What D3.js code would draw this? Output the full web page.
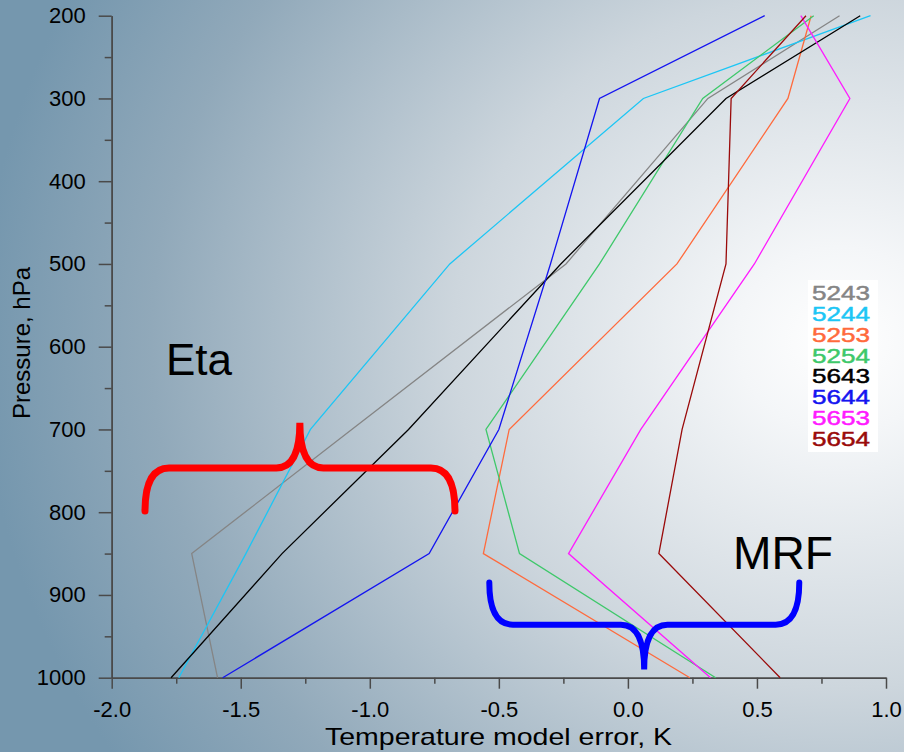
<!DOCTYPE html>
<html lang="en">
<head>
  <meta charset="UTF-8">
  <title>Temperature model error profiles</title>
  <script src="https://d3js.org/d3.v7.min.js"></script>
  <style>
    body { margin: 0; background: #fff; }
    svg { display: block; font-family: 'Liberation Sans', Arial, sans-serif; }
    .axis path, .axis line { stroke: #4a4a4a; stroke-width: 1.5px; }
    .axis text { fill: #000; font-size: 22px; }
  </style>
</head>
<body>
  <svg id="chart" width="904" height="752"></svg>
  <script>
    // pressure levels (hPa) shared by every profile
    const levels = [1000, 850, 700, 500, 300, 200];

    const runs = ["5243", "5244", "5253", "5254", "5643", "5644", "5653", "5654"];
    const colors = ["#858585", "#1cc6f5", "#ff6a3c", "#3ec86a", "#000000", "#1414f0", "#ff1aff", "#9a0a0a"];

    // temperature error (K) at each level
    const err5243 = [-1.59, -1.69, -1.07, -0.24, 0.31, 0.82];
    const err5244 = [-1.74, -1.48, -1.23, -0.69, 0.06, 0.94];
    const err5253 = [0.24, -0.56, -0.46, 0.19, 0.62, 0.71];
    const err5254 = [0.34, -0.42, -0.55, -0.11, 0.29, 0.72];
    const err5643 = [-1.77, -1.34, -0.85, -0.26, 0.38, 0.90];
    const err5644 = [-1.57, -0.77, -0.50, -0.30, -0.11, 0.53];
    const err5653 = [0.32, -0.23, 0.05, 0.49, 0.86, 0.67];
    const err5654 = [0.59, 0.12, 0.21, 0.38, 0.40, 0.69];
    const errors = [err5243, err5244, err5253, err5254, err5643, err5644, err5653, err5654];

    const xTicks = [-2.0, -1.5, -1.0, -0.5, 0.0, 0.5, 1.0];
    const yTicks = [200, 300, 400, 500, 600, 700, 800, 900, 1000];

    const svg = d3.select("#chart");
    const W = 904, H = 752;

    // background shading
    const defs = svg.append("defs");
    const grad = defs.append("radialGradient")
      .attr("id", "bg").attr("gradientUnits", "userSpaceOnUse")
      .attr("cx", 840).attr("cy", 340).attr("r", 860)
      .attr("gradientTransform", "translate(840,340) scale(1,0.9) translate(-840,-340)");
    grad.append("stop").attr("offset", "0").attr("stop-color", "#ffffff");
    grad.append("stop").attr("offset", "0.12").attr("stop-color", "#f4f6f8");
    grad.append("stop").attr("offset", "0.45").attr("stop-color", "#cdd6dd");
    grad.append("stop").attr("offset", "0.8").attr("stop-color", "#91a9ba");
    grad.append("stop").attr("offset", "1").attr("stop-color", "#7597ae");
    svg.append("rect").attr("width", W).attr("height", H).attr("fill", "url(#bg)");

    const x = d3.scaleLinear().domain([-2, 1]).range([111.7, 886]);
    const y = d3.scaleLinear().domain([200, 1000]).range([15.7, 677.7]);

    // axes: major and minor ticks
    svg.append("g").attr("class", "axis")
      .attr("transform", `translate(${x(-2)},0)`)
      .call(d3.axisLeft(y).tickValues(d3.range(250, 1000, 100)).tickSize(7).tickFormat("").tickSizeOuter(0));
    svg.append("g").attr("class", "axis")
      .attr("transform", `translate(${x(-2)},0)`)
      .call(d3.axisLeft(y).tickValues(yTicks).tickSize(13).tickPadding(13)
        .tickFormat(d => String(d)).tickSizeOuter(0));

    svg.append("g").attr("class", "axis")
      .attr("transform", `translate(0,${y(1000)})`)
      .call(d3.axisBottom(x).tickValues(d3.range(-1.75, 1, 0.5)).tickSize(6).tickFormat("").tickSizeOuter(0));
    svg.append("g").attr("class", "axis")
      .attr("transform", `translate(0,${y(1000)})`)
      .call(d3.axisBottom(x).tickValues(xTicks).tickSize(11).tickPadding(13)
        .tickFormat(d => d.toFixed(1)).tickSizeOuter(0));

    // axis titles
    svg.append("text")
      .attr("x", 498.5).attr("y", 745)
      .attr("text-anchor", "middle")
      .attr("font-size", 24)
      .attr("textLength", 347).attr("lengthAdjust", "spacingAndGlyphs")
      .text("Temperature model error, K");
    svg.append("text")
      .attr("transform", "translate(30,343) rotate(-90)")
      .attr("text-anchor", "middle")
      .attr("font-size", 24)
      .text("Pressure, hPa");

    // profiles
    const line = d3.line().x(d => x(d[0])).y(d => y(d[1]));
    runs.forEach((r, i) => {
      const pts = errors[i].map((v, j) => [v, levels[j]]);
      svg.append("path")
        .attr("d", line(pts))
        .attr("fill", "none")
        .attr("stroke", colors[i])
        .attr("stroke-width", 1.3);
    });

    // legend
    const lg = svg.append("g");
    lg.append("rect").attr("x", 808).attr("y", 280).attr("width", 70).attr("height", 172)
      .attr("fill", "#fff");
    lg.selectAll("text").data(runs).join("text")
      .attr("x", 812)
      .attr("y", (d, i) => 292.7 + i * 20.8)
      .attr("dy", "0.36em")
      .attr("font-size", 21)
      .attr("textLength", 58).attr("lengthAdjust", "spacingAndGlyphs")
      .attr("fill", (d, i) => colors[i])
      .attr("stroke", (d, i) => colors[i]).attr("stroke-width", 0.5)
      .text(d => d);

    // curly braces marking the two model groups
    function brace(x0, x1, xm, pEnd, pBar, pTip) {
      const X0 = x(x0), X1 = x(x1), XM = x(xm);
      const YE = y(pEnd), YB = y(pBar), YT = y(pTip);
      const r = Math.abs(YB - YE) * 0.56, rm = Math.abs(YT - YB) * 0.52;
      return `M${X0},${YE} Q${X0},${YB} ${X0 + r},${YB} L${XM - rm},${YB} Q${XM},${YB} ${XM},${YT}` +
        ` Q${XM},${YB} ${XM + rm},${YB} L${X1 - r},${YB} Q${X1},${YB} ${X1},${YE}`;
    }
    svg.append("path")
      .attr("d", brace(-1.871, -0.670, -1.271, 798.5, 746.6, 692))
      .attr("fill", "none").attr("stroke", "#ff0000").attr("stroke-width", 7)
      .attr("stroke-linecap", "round");
    svg.append("path")
      .attr("d", brace(-0.537, 0.664, 0.063, 885, 936, 990))
      .attr("fill", "none").attr("stroke", "#0000ff").attr("stroke-width", 6)
      .attr("stroke-linecap", "round");

    svg.append("text").attr("x", 166).attr("y", 375).attr("font-size", 44).text("Eta");
    svg.append("text").attr("x", 733).attr("y", 569).attr("font-size", 47)
      .attr("textLength", 100).attr("lengthAdjust", "spacingAndGlyphs").text("MRF");
  </script>
</body>
</html>
